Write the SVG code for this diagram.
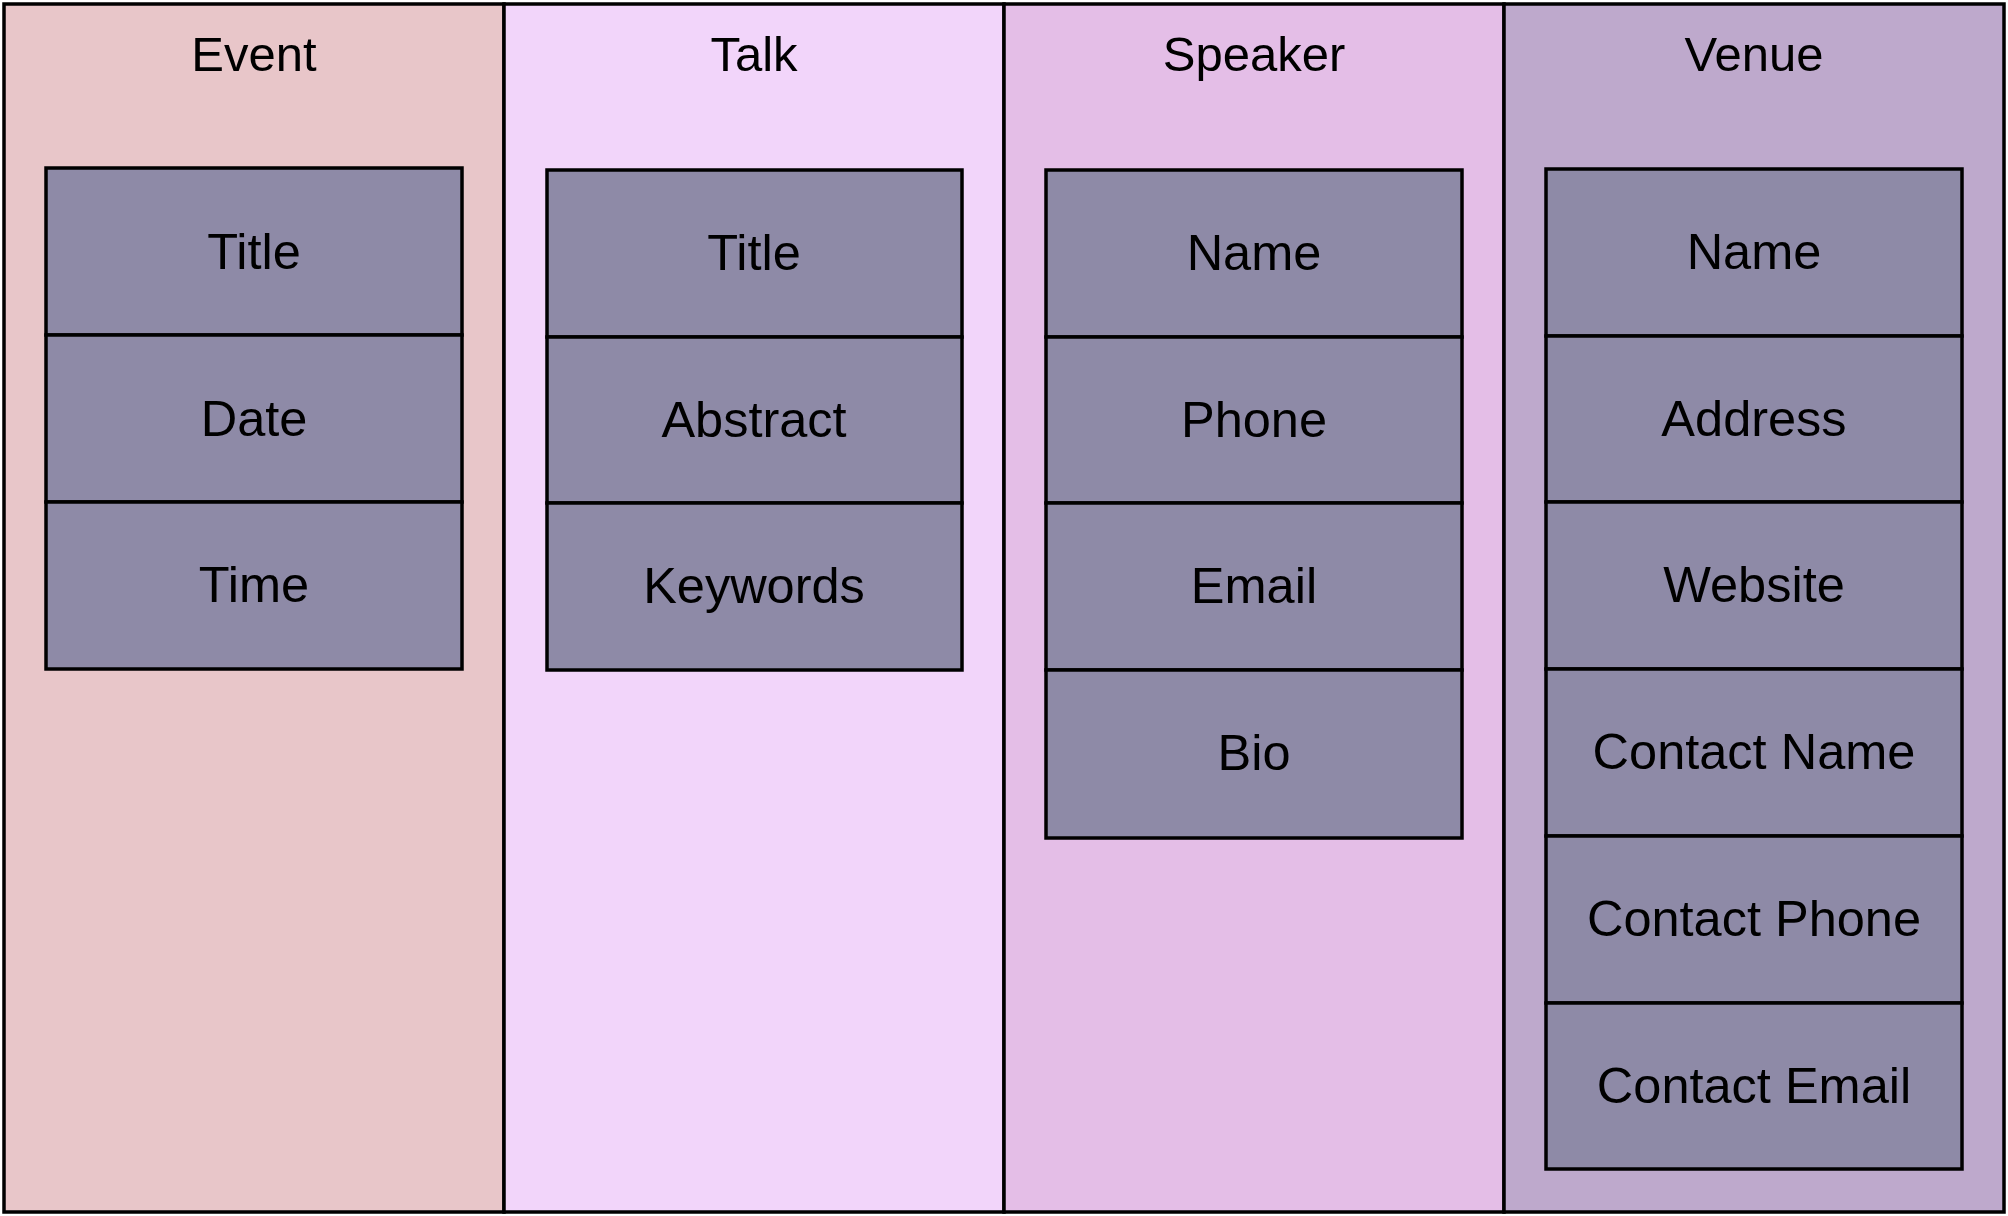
<svg xmlns="http://www.w3.org/2000/svg" width="2008" height="1216" viewBox="0 0 2008 1216">
<style>
.col{stroke:#000;stroke-width:3.5}
.cell{fill:#8E8AA7;stroke:#000;stroke-width:3.5}
text{font-family:"Liberation Sans",Arial,Helvetica,sans-serif;font-size:50.5px;fill:#000;text-anchor:middle}
text.h{font-size:49px}
</style>
<rect x="0" y="0" width="2008" height="1216" fill="#ffffff"/>
<g id="event">
<rect class="col" x="4" y="4" width="500" height="1208" fill="#E8C6C9"/>
<text class="h" x="254" y="71">Event</text>
<rect class="cell" x="46" y="168" width="416" height="167"/>
<text x="254" y="269">Title</text>
<rect class="cell" x="46" y="335" width="416" height="167"/>
<text x="254" y="436">Date</text>
<rect class="cell" x="46" y="502" width="416" height="167"/>
<text x="254" y="602">Time</text>
</g>
<g id="talk">
<rect class="col" x="504" y="4" width="500" height="1208" fill="#F2D5FA"/>
<text class="h" x="754" y="71">Talk</text>
<rect class="cell" x="547" y="170" width="415" height="167"/>
<text x="754" y="270">Title</text>
<rect class="cell" x="547" y="337" width="415" height="166"/>
<text x="754" y="437">Abstract</text>
<rect class="cell" x="547" y="503" width="415" height="167"/>
<text x="754" y="603">Keywords</text>
</g>
<g id="speaker">
<rect class="col" x="1004" y="4" width="500" height="1208" fill="#E4BEE7"/>
<text class="h" x="1254" y="71">Speaker</text>
<rect class="cell" x="1046" y="170" width="416" height="167"/>
<text x="1254" y="270">Name</text>
<rect class="cell" x="1046" y="337" width="416" height="166"/>
<text x="1254" y="437">Phone</text>
<rect class="cell" x="1046" y="503" width="416" height="167"/>
<text x="1254" y="603">Email</text>
<rect class="cell" x="1046" y="670" width="416" height="168"/>
<text x="1254" y="770">Bio</text>
</g>
<g id="venue">
<rect class="col" x="1504" y="4" width="500" height="1208" fill="#BEA9CC"/>
<text class="h" x="1754" y="71">Venue</text>
<rect class="cell" x="1546" y="169" width="416" height="167"/>
<text x="1754" y="269">Name</text>
<rect class="cell" x="1546" y="336" width="416" height="166"/>
<text x="1754" y="436">Address</text>
<rect class="cell" x="1546" y="502" width="416" height="167"/>
<text x="1754" y="602">Website</text>
<rect class="cell" x="1546" y="669" width="416" height="167"/>
<text x="1754" y="769">Contact Name</text>
<rect class="cell" x="1546" y="836" width="416" height="167"/>
<text x="1754" y="936">Contact Phone</text>
<rect class="cell" x="1546" y="1003" width="416" height="166"/>
<text x="1754" y="1103">Contact Email</text>
</g>
<g id="connectors"></g>
</svg>
